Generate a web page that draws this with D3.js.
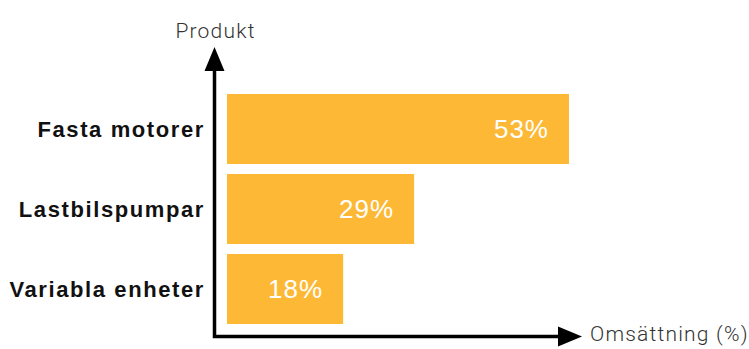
<!DOCTYPE html>
<html>
<head>
<meta charset="utf-8">
<script src="https://cdn.jsdelivr.net/npm/d3@7"></script>
<style>
  html, body { margin: 0; padding: 0; background: #fff; }
  svg { display: block; }
</style>
</head>
<body>
<div id="chart"></div>
<script>
// data
const categories = ["Fasta motorer", "Lastbilspumpar", "Variabla enheter"];
const shares = [53, 29, 18];
const xTitle = "Omsättning (%)";
const yTitle = "Produkt";

const W = 749, H = 349;
const svg = d3.select("#chart").append("svg")
  .attr("width", W).attr("height", H);

const x = d3.scaleLinear().domain([0, 53]).range([227, 569]);
const y = d3.scaleBand().domain(categories).range([94, 324]).paddingInner(0.125).paddingOuter(0);

const g = svg.append("g");

// bars
g.selectAll("rect.bar")
  .data(categories)
  .enter().append("rect")
  .attr("class", "bar")
  .attr("x", x(0))
  .attr("y", d => y(d))
  .attr("width", (d, i) => x(shares[i]) - x(0))
  .attr("height", y.bandwidth())
  .attr("fill", "#FDB935");

// value labels inside bars
g.selectAll("text.val")
  .data(categories)
  .enter().append("text")
  .attr("class", "val")
  .attr("x", (d, i) => x(shares[i]) - 20)
  .attr("y", d => y(d) + y.bandwidth() / 2)
  .attr("dy", "0.36em")
  .attr("text-anchor", "end")
  .attr("fill", "#fff")
  .attr("font-family", "Liberation Sans")
  .attr("font-size", 26)
  .attr("letter-spacing", 1)
  .text((d, i) => shares[i] + "%");

// category labels
g.selectAll("text.cat")
  .data(categories)
  .enter().append("text")
  .attr("class", "cat")
  .attr("x", 205)
  .attr("y", d => y(d) + y.bandwidth() / 2)
  .attr("dy", "0.36em")
  .attr("text-anchor", "end")
  .attr("fill", "#111")
  .attr("font-family", "Liberation Sans")
  .attr("font-weight", "bold")
  .attr("font-size", 22)
  .attr("letter-spacing", 1.6)
  .text(d => d);

// axes with arrows
const ax = svg.append("g");
const axX = 214.5, axY = 336.5;
ax.append("path")
  .attr("d", `M${axX},${axY} L${axX},66 M${axX - 1.75},${axY} L562,${axY}`)
  .attr("stroke", "#000").attr("stroke-width", 3.5).attr("fill", "none");
ax.append("path")
  .attr("d", `M${axX},47 L${axX + 10},71 L${axX - 10},71 Z`)
  .attr("fill", "#000");
ax.append("path")
  .attr("d", `M582,${axY} L558,${axY - 10} L558,${axY + 10} Z`)
  .attr("fill", "#000");

// axis titles
svg.append("text")
  .attr("x", axX + 1).attr("y", 38)
  .attr("text-anchor", "middle")
  .attr("fill", "#333")
  .attr("font-family", "Roboto")
  .attr("font-weight", 300)
  .attr("font-size", 21)
  .attr("letter-spacing", 1.2)
  .text(yTitle);
svg.append("text")
  .attr("x", 590).attr("y", 341)
  .attr("fill", "#333")
  .attr("font-family", "Roboto")
  .attr("font-weight", 300)
  .attr("font-size", 21)
  .attr("letter-spacing", 1.2)
  .text(xTitle);
</script>
</body>
</html>
